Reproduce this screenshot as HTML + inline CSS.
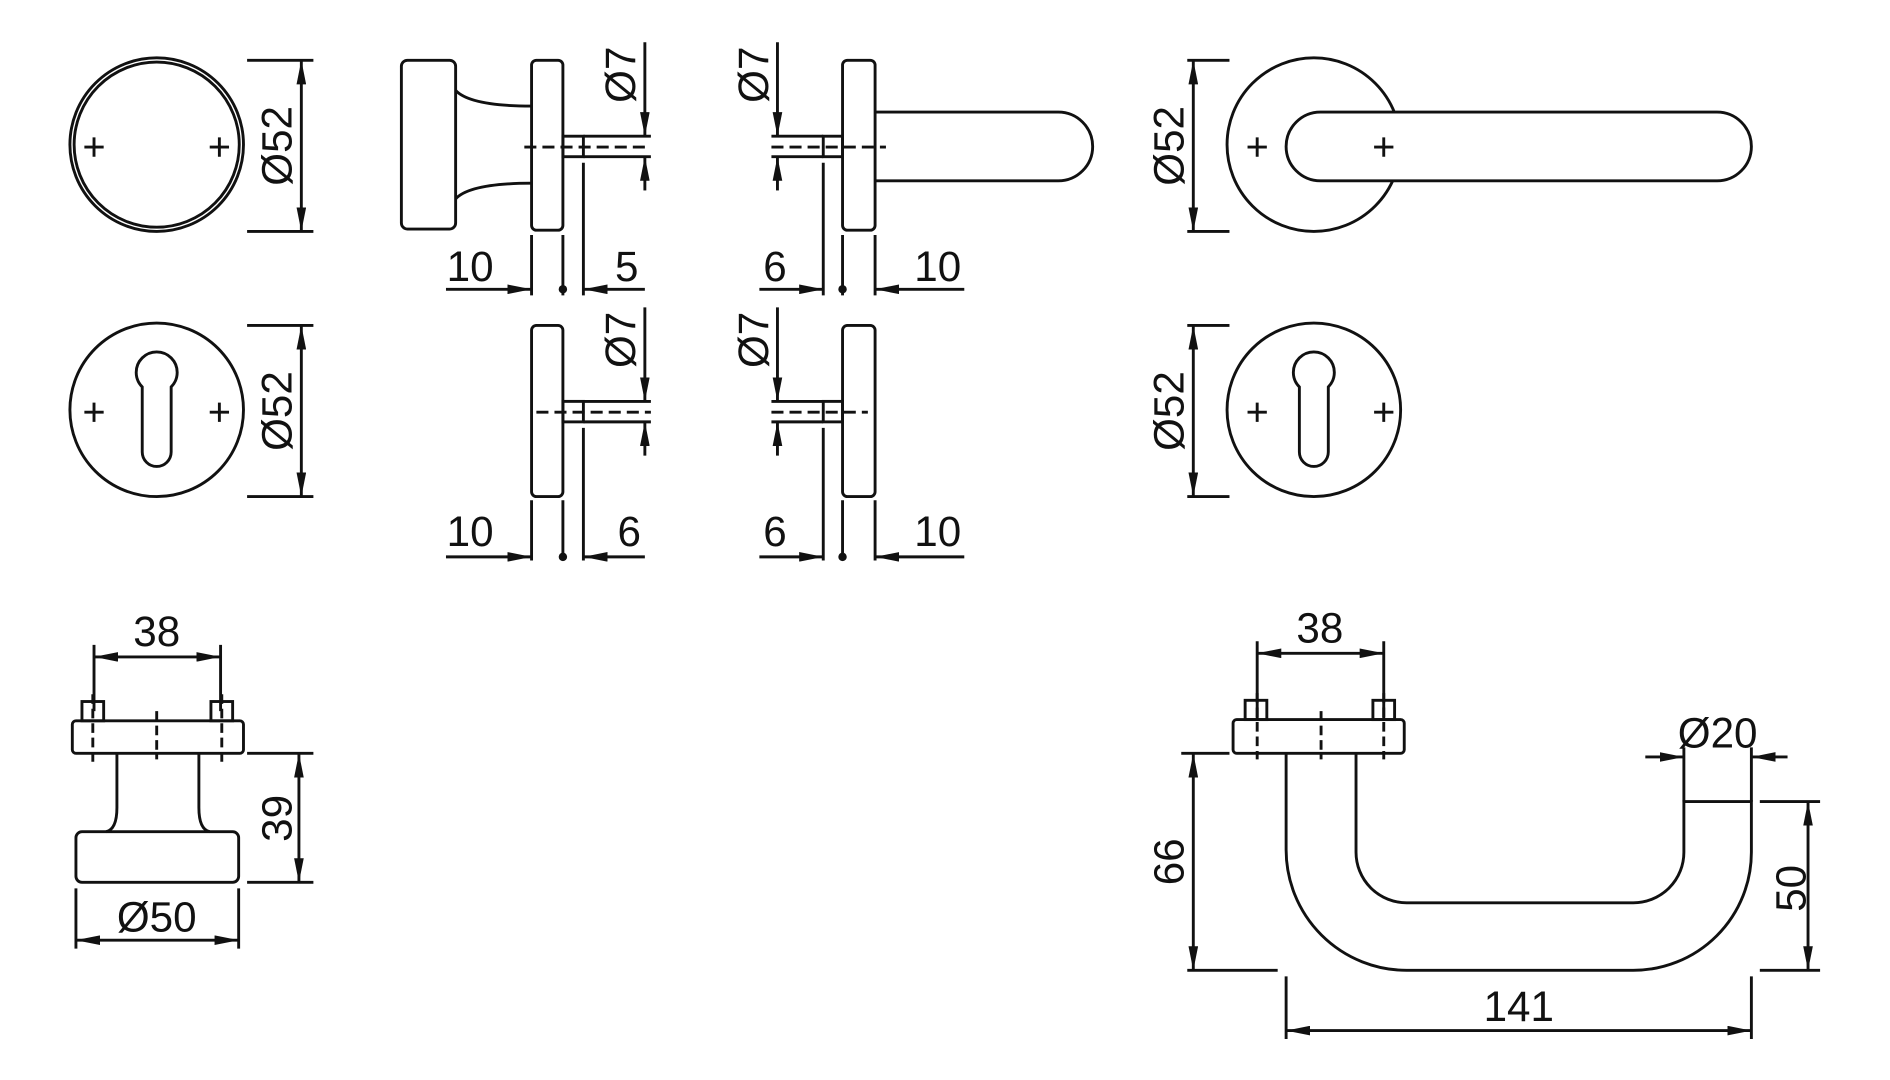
<!DOCTYPE html>
<html><head><meta charset="utf-8"><style>
html,body{margin:0;padding:0;background:#fff;}
svg{display:block;}
text{font-family:"Liberation Sans",sans-serif;font-size:35px;fill:#111;}
</style></head><body>
<svg width="1890" height="1080" viewBox="0 0 1568 896" preserveAspectRatio="none" xmlns="http://www.w3.org/2000/svg">
<defs>
<marker id="a" viewBox="0 0 20 8" refX="20" refY="4" markerWidth="20" markerHeight="8" markerUnits="userSpaceOnUse" orient="auto-start-reverse"><path d="M0,0 L20,4 L0,8 z" fill="#111"/></marker>
</defs>
<g fill="none" stroke="#111" stroke-width="2.4">
<circle cx="130" cy="120" r="72"/><circle cx="130" cy="120" r="68.5"/>
<path d="M70,122h16M78,114v16M174,122h16M182,114v16"/>
<path d="M205,50h55M205,192h55"/>
<line x1="250" y1="50" x2="250" y2="192" marker-start="url(#a)" marker-end="url(#a)"/>
<rect x="333" y="50" width="45" height="140" rx="5"/>
<path d="M378,75 Q390,88 441,88 M378,165 Q390,152 441,152"/>
<rect x="441" y="50" width="26" height="141" rx="4"/>
<rect x="467" y="113" width="17" height="17"/>
<path d="M435,122h105" stroke-dasharray="10,5"/>
<path d="M484,113h56M484,130h56"/>
<line x1="535" y1="35" x2="535" y2="113" marker-end="url(#a)"/>
<line x1="535" y1="158" x2="535" y2="130" marker-end="url(#a)"/>
<path d="M441,195v50M467,195v50M484,135v110"/>
<line x1="370" y1="240" x2="441" y2="240" marker-end="url(#a)"/>
<line x1="535" y1="240" x2="484" y2="240" marker-end="url(#a)"/>
<rect x="699" y="50" width="27" height="141" rx="4"/>
<path d="M726,93H878A28.5,28.5 0 0 1 878,150H726"/>
<rect x="683" y="113" width="16" height="17"/>
<path d="M640,122h95" stroke-dasharray="10,5"/>
<path d="M640,113h43M640,130h43"/>
<line x1="645" y1="35" x2="645" y2="113" marker-end="url(#a)"/>
<line x1="645" y1="158" x2="645" y2="130" marker-end="url(#a)"/>
<path d="M683,135v110M699,195v50M726,195v50"/>
<line x1="630" y1="240" x2="683" y2="240" marker-end="url(#a)"/>
<line x1="800" y1="240" x2="726" y2="240" marker-end="url(#a)"/>
<circle cx="1090" cy="120" r="72"/>
<rect x="1067" y="93" width="386" height="57" rx="28.5" fill="#fff"/>
<path d="M1035,122h16M1043,114v16M1140,122h16M1148,114v16"/>
<path d="M985,50h35M985,192h35"/>
<line x1="990" y1="50" x2="990" y2="192" marker-start="url(#a)" marker-end="url(#a)"/>
<circle cx="130" cy="340" r="72"/>
<path d="M118,321A17,17 0 1 1 142,321V375A12,12 0 0 1 118,375Z"/>
<path d="M70,342h16M78,334v16M174,342h16M182,334v16"/>
<path d="M205,270h55M205,412h55"/>
<line x1="250" y1="270" x2="250" y2="412" marker-start="url(#a)" marker-end="url(#a)"/>
<rect x="441" y="270" width="26" height="142" rx="4"/>
<rect x="467" y="333" width="17" height="17"/>
<path d="M445,342h95" stroke-dasharray="10,5"/>
<path d="M484,333h56M484,350h56"/>
<line x1="535" y1="255" x2="535" y2="333" marker-end="url(#a)"/>
<line x1="535" y1="378" x2="535" y2="350" marker-end="url(#a)"/>
<path d="M441,415v50M467,415v50M484,355v110"/>
<line x1="370" y1="462" x2="441" y2="462" marker-end="url(#a)"/>
<line x1="535" y1="462" x2="484" y2="462" marker-end="url(#a)"/>
<rect x="699" y="270" width="27" height="142" rx="4"/>
<rect x="683" y="333" width="16" height="17"/>
<path d="M640,342h80" stroke-dasharray="10,5"/>
<path d="M640,333h43M640,350h43"/>
<line x1="645" y1="255" x2="645" y2="333" marker-end="url(#a)"/>
<line x1="645" y1="378" x2="645" y2="350" marker-end="url(#a)"/>
<path d="M683,355v110M699,415v50M726,415v50"/>
<line x1="630" y1="462" x2="683" y2="462" marker-end="url(#a)"/>
<line x1="800" y1="462" x2="726" y2="462" marker-end="url(#a)"/>
<circle cx="1090" cy="340" r="72"/>
<path d="M1078,321A17,17 0 1 1 1102,321V375A12,12 0 0 1 1078,375Z"/>
<path d="M1035,342h16M1043,334v16M1140,342h16M1148,334v16"/>
<path d="M985,270h35M985,412h35"/>
<line x1="990" y1="270" x2="990" y2="412" marker-start="url(#a)" marker-end="url(#a)"/>
<path d="M78,535v55M183,535v55"/>
<line x1="78" y1="545" x2="183" y2="545" marker-start="url(#a)" marker-end="url(#a)"/>
<rect x="60" y="598" width="142" height="27" rx="3"/>
<rect x="68" y="582" width="18" height="16"/><rect x="175" y="582" width="18" height="16"/>
<path d="M77,576v56M184,576v56M130,590v40" stroke-dasharray="8,4"/>
<path d="M97,625V670Q97,688 88,690M165,625V670Q165,688 174,690"/>
<rect x="63" y="690" width="135" height="42" rx="5"/>
<path d="M205,625h55M205,732h55"/>
<line x1="248" y1="625" x2="248" y2="732" marker-start="url(#a)" marker-end="url(#a)"/>
<path d="M63,737v50M198,737v50"/>
<line x1="63" y1="780" x2="198" y2="780" marker-start="url(#a)" marker-end="url(#a)"/>
<path d="M1043,532v65M1148,532v65"/>
<line x1="1043" y1="542" x2="1148" y2="542" marker-start="url(#a)" marker-end="url(#a)"/>
<rect x="1023" y="597" width="142" height="28" rx="3"/>
<rect x="1033" y="581" width="18" height="16"/><rect x="1139" y="581" width="18" height="16"/>
<path d="M1043,575v55M1148,575v55M1096,590v40" stroke-dasharray="8,4"/>
<path d="M1067,625V705A100,100 0 0 0 1167,805H1355A98,98 0 0 0 1453,707V665H1397V707A42,42 0 0 1 1355,749H1167A42,42 0 0 1 1125,707V625"/>
<path d="M1397,620v45M1453,620v45"/>
<line x1="1365" y1="628" x2="1397" y2="628" marker-end="url(#a)"/>
<line x1="1483" y1="628" x2="1453" y2="628" marker-end="url(#a)"/>
<path d="M980,625h40M985,805h75"/>
<line x1="990" y1="625" x2="990" y2="805" marker-start="url(#a)" marker-end="url(#a)"/>
<path d="M1460,665h50M1460,805h50"/>
<line x1="1500" y1="665" x2="1500" y2="805" marker-start="url(#a)" marker-end="url(#a)"/>
<path d="M1067,810v52M1453,810v52"/>
<line x1="1067" y1="855" x2="1453" y2="855" marker-start="url(#a)" marker-end="url(#a)"/>
</g>
<g fill="#111">
<circle cx="467" cy="240" r="3.5"/><circle cx="699" cy="240" r="3.5"/>
<circle cx="467" cy="462" r="3.5"/><circle cx="699" cy="462" r="3.5"/>
</g>
<g text-anchor="middle">
<text transform="translate(242,121) rotate(-90)">Ø52</text>
<text transform="translate(527,62) rotate(-90)">Ø7</text>
<text transform="translate(637,62) rotate(-90)">Ø7</text>
<text transform="translate(982,121) rotate(-90)">Ø52</text>
<text x="390" y="233">10</text><text x="520" y="233">5</text>
<text x="643" y="233">6</text><text x="778" y="233">10</text>
<text transform="translate(242,341) rotate(-90)">Ø52</text>
<text transform="translate(527,282) rotate(-90)">Ø7</text>
<text transform="translate(637,282) rotate(-90)">Ø7</text>
<text transform="translate(982,341) rotate(-90)">Ø52</text>
<text x="390" y="453">10</text><text x="522" y="453">6</text>
<text x="643" y="453">6</text><text x="778" y="453">10</text>
<text x="130" y="536">38</text>
<text transform="translate(242,679) rotate(-90)">39</text>
<text x="130" y="773">Ø50</text>
<text x="1095" y="533">38</text>
<text x="1425" y="620">Ø20</text>
<text transform="translate(982,715) rotate(-90)">66</text>
<text transform="translate(1498,737) rotate(-90)">50</text>
<text x="1260" y="847">141</text>
</g>
</svg>
</body></html>
